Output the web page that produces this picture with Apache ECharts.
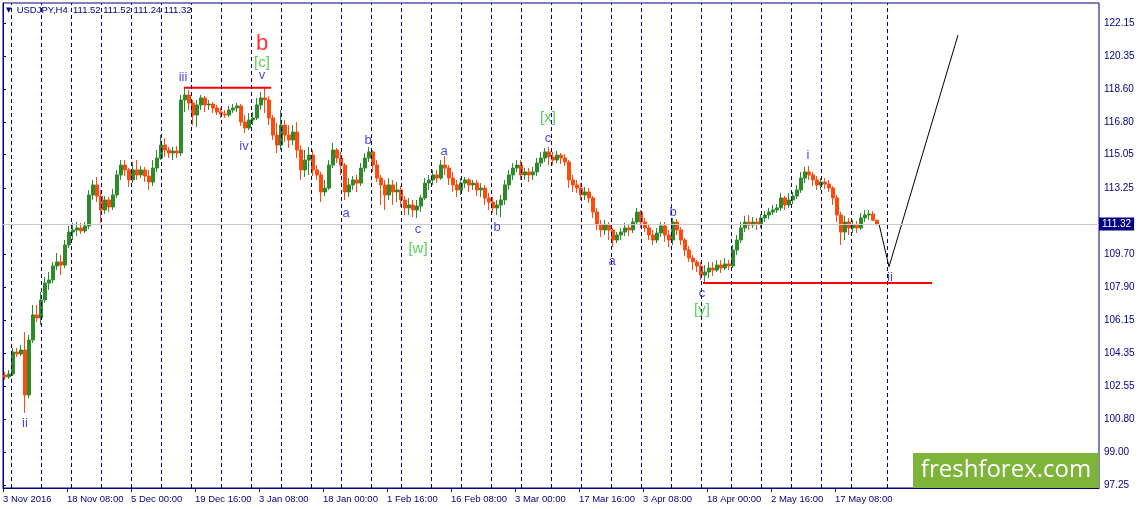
<!DOCTYPE html>
<html><head><meta charset="utf-8">
<script src="https://cdn.jsdelivr.net/npm/echarts@6/dist/echarts.min.js"></script>
<style>html,body{margin:0;padding:0;background:#fff}#c{width:1139px;height:509px}</style>
</head><body><div id="c"></div>
<script>
// ---------- data ----------
const symbol = 'USDJPY';
const timeframe = 'H4';
const barsPerCandle = 4;      // H4 bars aggregated in each drawn candle
const barsPerXLabel = 64;     // H4 bars between time labels
const xTickLabels = ['3 Nov 2016','18 Nov 08:00','5 Dec 00:00','19 Dec 16:00','3 Jan 08:00','18 Jan 00:00','1 Feb 16:00','16 Feb 08:00','3 Mar 00:00','17 Mar 16:00','3 Apr 08:00','18 Apr 00:00','2 May 16:00','17 May 08:00'];
const yTickValues = [97.25,99.00,100.80,102.55,104.35,106.15,107.90,109.70,113.25,115.05,116.80,118.60,120.35,122.15];
// week separators (H4 bar index)
const weekStarts = [8.5,38.5,68.5,98.5,128.5,158.5,188.5,218.5,248.5,278.5,308.5,338.5,368.5,398.5,428.5,458.5,488.5,518.5,548.5,578.5,608.5,638.5,668.5,698.5,728.5,758.5,788.5,818.5,848.5,884.5];
// [open, close, low, high]
const candles = [
[103.17,103.07,102.90,103.34],[103.07,103.23,102.96,103.44],[103.23,104.41,103.12,104.63],[104.41,104.31,104.14,104.63],[104.31,104.52,104.20,104.79],[104.52,102.10,101.13,105.49],[102.10,105.06,101.93,105.33],[105.06,106.41,104.90,106.95],[106.41,106.25,106.03,106.95],[106.25,107.22,105.87,107.65],
[107.22,108.13,107.06,108.46],[108.13,108.30,107.76,108.73],[108.30,109.05,108.13,109.27],[109.05,109.27,108.83,109.75],[109.27,109.10,108.56,109.64],[109.10,110.18,108.94,110.45],[110.18,110.88,110.02,111.21],[110.88,110.99,110.45,111.37],[110.99,111.10,110.67,111.42],[111.10,110.94,110.78,111.37],
[110.94,111.21,110.83,111.42],[111.21,112.88,111.04,113.15],[112.88,113.42,112.61,113.69],[113.42,112.82,112.50,113.85],[112.82,112.07,111.37,113.15],[112.07,112.61,111.85,112.82],[112.61,112.23,111.96,112.77],[112.23,112.88,112.07,113.20],[112.88,113.96,112.72,114.23],[113.96,114.49,113.69,114.76],
[114.49,114.23,113.90,114.76],[114.23,113.69,113.31,114.33],[113.69,114.23,113.52,114.66],[114.23,113.96,113.69,114.76],[113.96,114.23,113.79,114.44],[114.23,113.90,113.58,114.39],[113.90,113.58,113.15,114.23],[113.58,114.33,113.36,114.76],[114.33,114.87,114.12,115.30],[114.87,115.57,114.76,116.11],
[115.57,115.30,114.93,115.95],[115.30,115.14,114.87,115.47],[115.14,115.25,114.76,115.47],[115.25,115.14,114.87,115.52],[115.14,118.00,114.98,118.27],[118.00,118.27,117.35,118.66],[118.27,117.84,117.46,118.54],[117.84,117.19,116.65,118.00],[117.19,117.73,116.54,118.00],[117.73,118.11,117.46,118.27],
[118.11,117.73,117.35,118.21],[117.73,117.78,117.46,118.00],[117.78,117.57,117.30,117.89],[117.57,117.35,117.19,117.73],[117.35,117.24,117.03,117.57],[117.24,117.19,117.03,117.46],[117.19,117.46,117.08,117.68],[117.46,117.57,117.30,117.78],[117.57,117.68,117.35,117.84],[117.68,116.81,116.60,117.78],
[116.81,116.49,116.22,117.19],[116.49,116.92,116.38,117.30],[116.92,117.03,116.65,117.35],[117.03,117.73,116.92,118.11],[117.73,118.11,117.46,118.43],[118.11,118.00,117.30,118.65],[118.00,117.03,116.65,118.21],[117.03,116.11,115.84,117.19],[116.11,115.57,115.14,116.76],[115.57,116.65,115.30,117.46],
[116.65,116.11,115.73,116.92],[116.11,115.84,115.41,116.65],[115.84,116.27,115.57,116.65],[116.27,115.30,114.87,116.81],[115.30,114.23,113.69,115.57],[114.23,114.76,113.85,115.30],[114.76,115.03,113.96,115.47],[115.03,114.23,113.90,115.30],[114.23,113.96,113.69,114.49],[113.96,113.04,112.50,114.12],
[113.04,113.25,112.82,113.69],[113.25,114.49,113.15,114.76],[114.49,115.30,114.33,115.68],[115.30,114.87,114.60,115.41],[114.87,114.49,113.96,115.20],[114.49,113.04,112.61,114.60],[113.04,113.42,112.77,113.79],[113.42,113.69,113.15,113.90],[113.69,113.52,113.04,113.96],[113.52,114.33,113.36,114.60],
[114.33,114.87,114.12,115.14],[114.87,115.20,114.66,115.47],[115.20,114.49,114.12,115.30],[114.49,113.79,113.58,114.76],[113.79,113.42,112.34,113.96],[113.42,112.88,112.07,113.69],[112.88,113.42,112.61,113.79],[113.42,113.04,112.34,113.69],[113.04,113.15,112.50,113.58],[113.15,112.61,112.23,113.36],
[112.61,112.18,111.80,112.82],[112.18,112.34,111.80,112.72],[112.34,112.07,111.69,112.61],[112.07,112.28,111.64,112.61],[112.28,112.72,111.96,112.88],[112.72,113.52,112.61,113.79],[113.52,113.69,113.15,113.96],[113.69,113.96,113.42,114.23],[113.96,113.79,113.52,114.23],[113.79,114.49,113.69,114.76],
[114.49,114.33,113.96,114.98],[114.33,113.79,113.42,114.49],[113.79,113.42,113.04,114.12],[113.42,113.15,112.77,113.69],[113.15,113.52,112.88,113.79],[113.52,113.69,113.25,113.85],[113.69,113.42,113.04,113.79],[113.42,113.52,113.15,113.69],[113.52,113.15,112.82,113.69],[113.15,113.25,112.77,113.52],
[113.25,112.72,112.34,113.42],[112.72,112.50,112.07,112.99],[112.50,112.18,111.91,112.77],[112.18,112.34,111.80,112.61],[112.34,112.61,111.69,112.88],[112.61,113.42,112.34,113.69],[113.42,113.96,113.15,114.23],[113.96,114.33,113.69,114.60],[114.33,114.49,114.12,114.76],[114.49,113.96,113.69,114.76],
[113.96,114.12,113.69,114.33],[114.12,113.96,113.58,114.33],[113.96,114.12,113.69,114.39],[114.12,114.60,113.90,114.87],[114.60,114.87,114.39,115.20],[114.87,115.20,114.66,115.41],[115.20,114.93,114.49,115.47],[114.93,114.76,114.49,115.20],[114.76,115.03,114.60,115.25],[115.03,114.87,114.55,115.14],
[114.87,114.66,114.44,115.09],[114.66,113.69,113.25,114.76],[113.69,113.42,113.04,113.96],[113.42,113.25,112.99,113.69],[113.25,112.88,112.61,113.52],[112.88,113.04,112.61,113.31],[113.04,112.72,112.45,113.25],[112.72,111.96,111.64,112.82],[111.96,111.26,110.99,112.18],[111.26,110.99,110.61,111.53],
[110.99,111.26,110.72,111.53],[111.26,110.99,110.45,111.42],[110.99,110.45,110.07,111.10],[110.45,110.72,110.29,110.88],[110.72,110.88,110.45,111.10],[110.88,111.10,110.67,111.37],[111.10,110.99,110.67,111.31],[110.99,111.42,110.83,111.64],[111.42,111.96,111.26,112.18],[111.96,111.42,111.10,112.07],
[111.42,111.10,110.88,111.64],[111.10,110.72,110.45,111.26],[110.72,110.45,110.18,110.99],[110.45,110.83,110.29,111.10],[110.83,111.21,110.61,111.42],[111.21,110.72,110.34,111.42],[110.72,110.45,110.07,110.99],[110.45,111.42,110.18,111.64],[111.42,110.99,110.72,111.58],[110.99,110.45,110.18,111.15],
[110.45,109.91,109.59,110.56],[109.91,109.48,109.27,110.13],[109.48,109.27,108.83,109.64],[109.27,109.05,108.73,109.37],[109.05,108.56,108.30,109.27],[108.56,108.73,108.13,109.10],[108.73,108.94,108.40,109.27],[108.94,108.83,108.51,109.27],[108.83,109.10,108.73,109.37],[109.10,108.94,108.67,109.37],
[108.94,109.16,108.83,109.48],[109.16,109.05,108.83,109.37],[109.05,109.91,108.94,110.18],[109.91,110.45,109.64,110.72],[110.45,111.10,110.29,111.42],[111.10,111.42,110.88,111.75],[111.42,111.26,110.99,111.80],[111.26,111.42,111.10,111.69],[111.42,111.32,110.99,111.64],[111.32,111.64,111.10,111.85],
[111.64,111.80,111.42,112.01],[111.80,111.96,111.58,112.18],[111.96,112.07,111.80,112.34],[112.07,112.18,111.91,112.39],[112.18,112.72,112.01,112.99],[112.72,112.34,112.07,112.82],[112.34,112.61,112.18,112.99],[112.61,112.82,112.39,113.04],[112.82,113.15,112.66,113.42],[113.15,113.79,112.99,114.12],
[113.79,114.12,113.52,114.39],[114.12,113.96,113.69,114.44],[113.96,113.69,113.36,114.12],[113.69,113.42,113.15,113.90],[113.42,113.58,113.15,113.79],[113.58,113.47,113.20,113.79],[113.47,113.25,113.04,113.69],[113.25,112.72,112.34,113.36],[112.72,111.80,111.42,112.88],[111.80,110.88,110.18,111.96],
[110.88,111.42,110.45,111.75],[111.42,111.10,110.72,111.64],[111.10,111.26,110.83,111.53],[111.26,111.10,110.83,111.48],[111.10,111.64,110.99,111.91],[111.64,111.80,111.42,112.07],[111.80,111.85,111.53,112.07],[111.85,111.52,111.48,112.01],[111.52,111.32,111.24,111.52]
];
// Elliott wave labels: [text, H4 bar index, price, kind]
const waveLabels = [
['ii',22,100.59,'blue'],['iii',180,119.24,'blue'],['b',259,121.02,'red'],['[c]',259,119.99,'green'],['v',259,119.35,'blue'],
['iv',241,115.47,'blue'],['a',343,111.91,'blue'],['b',365,115.84,'blue'],['c',415,111.04,'blue'],['[w]',415,109.97,'green'],
['a',441,115.25,'blue'],['b',494,111.15,'blue'],['c',545,115.95,'blue'],['[x]',545,117.03,'green'],['a',609,109.32,'blue'],
['b',670,111.96,'blue'],['c',699,107.59,'blue'],['[y]',699,106.68,'green'],['i',805,115.03,'blue'],['ii',887,108.46,'blue']
];
// horizontal levels: [fromBar, toBar, price]
const levelLines = [[181,268,118.66],[700,929,108.13]];
// forecast path: [bar, price]
const forecastPath = [[876,111.32],[886,109.01],[955,121.50]];

// ---------- chart ----------
const navy = '#000080';
const font = 'Liberation Sans';
const last = candles[candles.length - 1];
const lastClose = last[1];
const fmt = v => v.toFixed(2);
const candleData = candles.map((c, i) => [i * barsPerCandle + barsPerCandle / 2, c[0], c[1], c[2], c[3]]);
const kindStyle = {
  blue: {color: '#1414e0', fontSize: 13},
  green: {color: '#2fc42f', fontSize: 15},
  red: {color: '#ff0000', fontSize: 22}
};

const chart = echarts.init(document.getElementById('c'));
chart.setOption({
  animation: false,
  backgroundColor: '#ffffff',
  title: {
    text: `{tri|▼}  ${symbol},${timeframe}  ${fmt(last[0])} ${fmt(last[3])} ${fmt(last[2])} ${fmt(last[1])}`,
    left: 6, top: 5, padding: 0,
    textStyle: {fontSize: 9.5, color: navy, fontFamily: font, fontWeight: 'normal',
      rich: {tri: {fontSize: 7, color: navy, fontFamily: 'DejaVu Sans'}}}
  },
  grid: {left: 3, right: 40, top: 3, bottom: 21, show: true, borderColor: navy, borderWidth: 1, backgroundColor: '#ffffff'},
  xAxis: [{
    type: 'value', min: 0, max: 1096, position: 'bottom',
    axisLine: {show: true, lineStyle: {color: navy, width: 1}},
    axisTick: {show: true, length: 4, lineStyle: {color: navy}, customValues: xTickLabels.map((_, i) => i * barsPerXLabel)},
    axisLabel: {show: true, color: navy, fontSize: 9.5, fontFamily: font, align: 'left', margin: 6,
      customValues: xTickLabels.map((_, i) => i * barsPerXLabel),
      formatter: v => xTickLabels[Math.round(v / barsPerXLabel)] || ''},
    splitLine: {show: false}
  }],
  yAxis: [{
    type: 'value', position: 'right', min: 97.082, max: 123.228, scale: true,
    axisLine: {show: true, lineStyle: {color: navy, width: 1}},
    axisTick: {show: true, length: 3, lineStyle: {color: navy}, customValues: yTickValues},
    axisLabel: {show: true, color: navy, fontSize: 10, fontFamily: font, margin: 5,
      customValues: yTickValues, formatter: v => fmt(v)},
    splitLine: {show: false}
  }],
  graphic: [{
    type: 'group', left: 913, top: 453, silent: true, z: 100,
    children: [
      {type: 'rect', shape: {x: 0, y: 0, width: 186, height: 35}, style: {fill: '#7fb43a'}},
      {type: 'text', x: 93, y: 17, style: {text: 'freshforex.com', fill: '#ffffff', font: '24px "Open Sans"', align: 'center', verticalAlign: 'middle'}}
    ]
  }],
  series: [
    {
      type: 'line', z: 1, data: [[0, lastClose]], symbol: 'none', lineStyle: {opacity: 0}, silent: true,
      markLine: {
        silent: true, symbol: ['none', 'none'], animation: false,
        label: {show: false},
        lineStyle: {color: navy, type: [4, 3], width: 1},
        data: weekStarts.map(v => ({xAxis: v})).concat([{
          yAxis: lastClose,
          lineStyle: {color: '#c8c8c8', type: 'solid', width: 1},
          label: {show: true, position: 'end', distance: 0, formatter: fmt(lastClose),
            backgroundColor: navy, color: '#ffffff', fontSize: 10, fontFamily: font, padding: [2, 3, 1, 3]}
        }])
      }
    },
    {
      type: 'candlestick', z: 3, data: candleData, barWidth: 3,
      itemStyle: {color: '#2e8b2a', color0: '#ff4a0c', borderColor: '#2e8b2a', borderColor0: '#ff4a0c', borderWidth: 1}
    },
    ...levelLines.map(l => ({
      type: 'line', z: 4, symbol: 'none', silent: true,
      data: [[l[0], l[2]], [l[1], l[2]]],
      lineStyle: {color: '#ff0000', width: 2}
    })),
    {
      type: 'line', z: 4, symbol: 'none', silent: true, data: forecastPath,
      lineStyle: {color: '#000000', width: 1}
    },
    {
      type: 'scatter', z: 5, symbolSize: 1, silent: true,
      itemStyle: {color: 'rgba(0,0,0,0)'},
      data: waveLabels.map(w => ({
        value: [w[1], w[2]],
        label: {show: true, position: 'inside', formatter: w[0], fontFamily: font,
          color: kindStyle[w[3]].color, fontSize: kindStyle[w[3]].fontSize}
      }))
    }
  ]
});
</script>
</body></html>
